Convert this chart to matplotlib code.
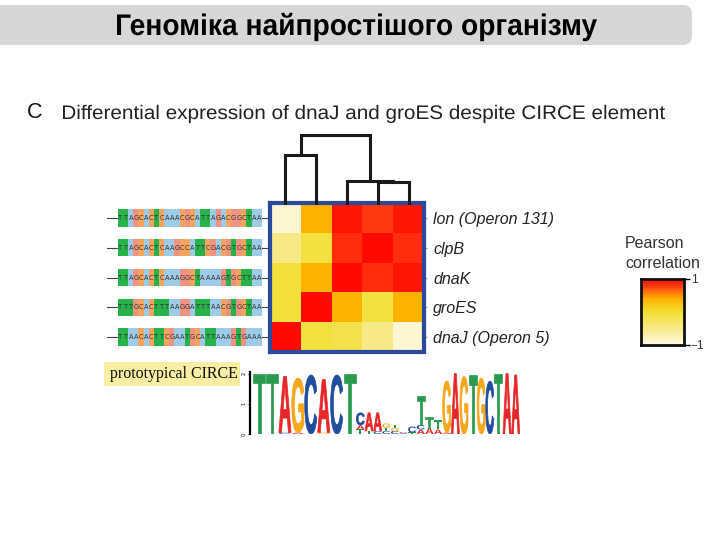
import numpy as np
import matplotlib
matplotlib.use("Agg")
import matplotlib.pyplot as plt
from matplotlib.colors import LinearSegmentedColormap
from matplotlib.patches import FancyBboxPatch, Rectangle, PathPatch
from matplotlib.textpath import TextPath
from matplotlib.font_manager import FontProperties
from matplotlib.transforms import Affine2D

# ---------------- data ----------------
title = "Геноміка найпростішого організму"
panel_letter = "C"
subtitle = "Differential expression of dnaJ and groES despite CIRCE element"
genes = ["lon (Operon 131)", "clpB", "dnaK", "groES", "dnaJ (Operon 5)"]
corr = np.array([
    [-0.90, 0.40, 0.95, 0.80, 0.95],
    [-0.50, -0.10, 0.85, 1.00, 0.85],
    [-0.05, 0.40, 1.00, 0.85, 0.95],
    [-0.05, 1.00, 0.40, -0.10, 0.40],
    [1.00, -0.10, -0.15, -0.50, -0.90],
])
# dendrogram merges over the columns: (left, right, height)
merges = [(3, 4, 23), (2, 5, 24), (0, 1, 50), (7, 6, 70)]
sequences = [
    "TTAGCACTCAAACGCATTAGACGGCTAA",
    "TTAGCACTCAAGCCATTCGACGTGCTAA",
    "TTAGCACTCAAAGGCTAAAAGTGCTTAA",
    "TTTGCACTTTAAGGATTTAACGTGCTAA",
    "TTAACACTTCGAATGCATTAAAGTGAAA",
]
motif_label = "prototypical CIRCE"
# sequence logo: per position, stack of (letter, bits) from bottom to top
logo = [
    [("T", 2.0)], [("T", 2.0)], [("C", 0.05), ("A", 1.85)], [("A", 0.05), ("G", 1.8)],
    [("C", 1.95)], [("G", 0.05), ("A", 1.75)], [("C", 1.95)], [("T", 2.0)],
    [("T", 0.15), ("A", 0.15), ("C", 0.4)], [("T", 0.1), ("A", 0.6)],
    [("C", 0.1), ("A", 0.6)], [("C", 0.1), ("T", 0.1), ("G", 0.15)],
    [("C", 0.1), ("G", 0.1), ("T", 0.1)], [("A", 0.03), ("C", 0.03)],
    [("T", 0.05), ("C", 0.2)], [("A", 0.15), ("C", 0.15), ("T", 0.95)],
    [("A", 0.2), ("T", 0.35)], [("A", 0.15), ("T", 0.3)], [("A", 0.05), ("G", 1.7)],
    [("A", 2.0)], [("G", 1.9)], [("T", 1.95)], [("G", 1.85)], [("C", 1.75)],
    [("T", 2.0)], [("A", 2.0)], [("A", 1.95)],
]
cbar_ticks = [-1, 1]
cbar_ticklabels = ["\u22121", "1"]

# ---------------- styles ----------------
W, H = 720, 540
fig = plt.figure(figsize=(7.2, 5.4), dpi=100)

def ax_at(x0, y0, x1, y1, **kw):
    return fig.add_axes([x0 / W, 1 - y1 / H, (x1 - x0) / W, (y1 - y0) / H], **kw)

cmap = LinearSegmentedColormap.from_list("pc", [
    (0.0, "#FFFAE4"), (0.25, "#F8EA88"), (0.5, "#F3DF32"),
    (0.7, "#FDB400"), (0.9, "#FF3A10"), (1.0, "#FF0A00")])
seq_colors = {"T": "#27B24A", "A": "#9ECBE8", "C": "#F3A45E", "G": "#EE9380"}
logo_colors = {"T": "#2A9A4E", "A": "#E8262A", "G": "#F5A81C", "C": "#1F4E9E"}
blue = "#2B4A9C"
logo_widths = np.array([1.5] * 8 + [1.0] * (len(logo) - 8))  # drawing widths of logo columns

# overlay axes in pixel coordinates (y downwards)
ov = fig.add_axes([0, 0, 1, 1])
ov.set_xlim(0, W)
ov.set_ylim(H, 0)
ov.axis("off")


def fitted_text(ax, s, x0, x1, baseline, cap, prop, color):
    """Text drawn as a path, stretched to span x0..x1 with a given cap height."""
    tp = TextPath((0, 0), s, size=1, prop=prop)
    bb = tp.get_extents()
    capbb = TextPath((0, 0), "H", size=1, prop=prop).get_extents()
    sx = (x1 - x0) / bb.width
    sy = cap / capbb.y1
    tr = Affine2D().translate(-bb.x0, 0).scale(sx, -sy).translate(x0, baseline)
    ax.add_patch(PathPatch(tr.transform_path(tp), facecolor=color, edgecolor="none"))


ov.add_patch(FancyBboxPatch((-20, 5), 712, 40, boxstyle="round,pad=0,rounding_size=9",
                            facecolor="#D7D7D7", edgecolor="none"))
fitted_text(ov, title, 117, 597, 35, 20.5,
            FontProperties(family="Liberation Sans", weight="bold"), "black")
ov.text(27, 113, panel_letter, ha="left", va="center", fontsize=15.5,
        family="Liberation Sans", color="#111")
fitted_text(ov, subtitle, 63, 665, 119, 13.5,
            FontProperties(family="Liberation Sans"), "#222")

# heatmap
hx0, hy0, hx1, hy1 = 270, 203, 424, 352
axh = ax_at(hx0, hy0, hx1, hy1)
axh.imshow(corr, cmap=cmap, vmin=-1, vmax=1, aspect="auto", interpolation="nearest")
for s in axh.spines.values():
    s.set_color(blue)
    s.set_linewidth(3)
axh.set_xticks([])
axh.yaxis.tick_right()
axh.set_yticks(range(len(genes)))
axh.set_yticklabels(genes, fontsize=11.5, style="italic", family="Liberation Sans", color="#222")
axh.tick_params(axis="y", length=2.5, width=0.8, color="#999", pad=4)

# dendrogram
axd = ax_at(hx0, 128, hx1, 205)
axd.set_xlim(-0.5, len(genes) - 0.5)
axd.set_ylim(0, 77)
axd.axis("off")
pos = {i: (float(i), 0.0) for i in range(len(genes))}
for k, (a, b, hgt) in enumerate(merges):
    xa, ha_ = pos[a]
    xb, hb = pos[b]
    axd.plot([xa, xa, xb, xb], [ha_, hgt, hgt, hb], color="#1a1a1a", lw=2.2,
             solid_joinstyle="miter", solid_capstyle="projecting")
    pos[len(genes) + k] = ((xa + xb) / 2, hgt)

# sequences
axs = ax_at(105, hy0, 268, hy1)
n = len(sequences[0])
axs.set_xlim(-2.5, n + 1.2)
axs.set_ylim(len(sequences) - 0.5, -0.5)
axs.axis("off")
for r, seq in enumerate(sequences):
    axs.plot([-2.2, n + 1.2], [r, r], color="#444", lw=0.8, zorder=1)
    for i, ch in enumerate(seq):
        axs.add_patch(Rectangle((i, r - 0.29), 1, 0.58, facecolor=seq_colors[ch],
                                edgecolor="none", zorder=2))
        axs.text(i + 0.5, r, ch, ha="center", va="center", fontsize=4.8,
                 color="#333", zorder=3, family="DejaVu Sans")

# prototypical CIRCE label
ov.add_patch(Rectangle((104, 362), 136, 24, facecolor="#F9EFA4", edgecolor="none"))
ov.text(110, 374, motif_label, ha="left", va="center", fontsize=11.5,
        family="Liberation Serif", color="#111")

# sequence logo
axl = ax_at(250, 372, 520, 434)
edges = np.concatenate([[0], np.cumsum(logo_widths)])
axl.set_xlim(-0.3, edges[-1])
axl.set_ylim(0, 2.05)
for s in ["top", "right", "bottom"]:
    axl.spines[s].set_visible(False)
axl.spines["left"].set_linewidth(1.6)
axl.set_xticks([])
axl.set_yticks([0, 1, 2])
axl.set_yticklabels(["0", "1", "2"], fontsize=3.5, rotation=90, va="center")
axl.tick_params(axis="y", length=1.5, width=0.6, pad=1)
fp = FontProperties(family="Liberation Sans", weight="bold")
for i, stack in enumerate(logo):
    base = 0.0
    w = logo_widths[i]
    for ch, hgt in stack:
        tp = TextPath((0, 0), ch, size=1, prop=fp)
        bb = tp.get_extents()
        tr = (Affine2D().translate(-bb.x0, -bb.y0)
              .scale(0.94 * w / bb.width, hgt / bb.height)
              .translate(edges[i] + 0.03 * w, base))
        axl.add_patch(PathPatch(tr.transform_path(tp), facecolor=logo_colors[ch],
                                edgecolor=logo_colors[ch], linewidth=0.5 if hgt > 0.3 else 0))
        base += hgt

# colorbar
ov.text(625, 243, "Pearson", ha="left", va="center", fontsize=11.5,
        family="Liberation Sans", color="#333")
ov.text(625, 263, "correlation", ha="left", va="center", fontsize=11.5,
        family="Liberation Sans", color="#333")
axc = ax_at(641, 279, 684, 345)
grad = np.linspace(-1, 1, 200).reshape(-1, 1)
axc.imshow(grad, cmap=cmap, vmin=-1, vmax=1, aspect="auto", origin="lower",
           extent=[0, 1, -1, 1])
for s in axc.spines.values():
    s.set_linewidth(2)
    s.set_color("#111")
axc.set_xticks([])
axc.yaxis.tick_right()
axc.set_yticks(cbar_ticks)
axc.set_yticklabels(cbar_ticklabels, fontsize=8.5, family="Liberation Sans", color="#333")
axc.tick_params(axis="y", length=4, width=1, pad=1)

fig.savefig("out.png", dpi=100)
